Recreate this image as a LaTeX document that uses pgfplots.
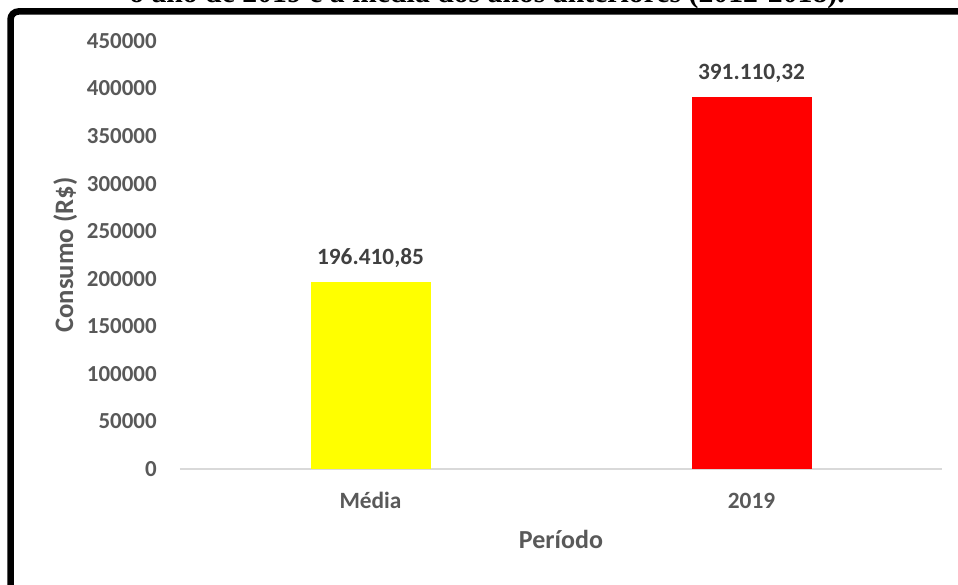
\documentclass[border=0pt]{standalone}
\usepackage{fontspec}
\setmainfont{Carlito}
\newfontfamily\titlefont{Liberation Serif}
\usepackage{pgfplots}
\usepackage{pgfplotstable}
\pgfplotsset{compat=1.18}
\definecolor{tickgray}{HTML}{595959}
\definecolor{labgray}{HTML}{404040}
\definecolor{axgray}{HTML}{D9D9D9}
\definecolor{baryellow}{HTML}{FFFF00}
\definecolor{barred}{HTML}{FF0000}

\pgfplotstableread{
x y label
0 196410.85 196.410,85
}\mediadata
\pgfplotstableread{
x y label
1 391110.32 391.110,32
}\anodata

\begin{document}
\begin{tikzpicture}
\path[use as bounding box, clip] (0pt,0pt) rectangle (718.5pt,-438.75pt);
\node[anchor=base, inner sep=0pt, font=\titlefont\bfseries\fontsize{22.3}{26}\selectfont] at (365.25pt,-1.9pt) {o ano de 2019 e a média dos anos anteriores (2012-2018).};
\draw[line width=4.9pt, rounded corners=6pt] (7.9pt,-470pt) -- (7.9pt,-8.6pt) -- (760pt,-8.6pt);
\begin{axis}[
  at={(135pt,-351.75pt)}, anchor=south west,
  scale only axis, width=571.5pt, height=321pt,
  xmin=-0.5, xmax=1.5, ymin=0, ymax=450000,
  xtick={0,1}, xticklabels={Média,2019},
  ytick={0,50000,...,450000},
  scaled y ticks=false,
  axis line style={draw=none},
  tick style={draw=none},
  major tick length=0pt,
  yticklabel style={/pgf/number format/fixed, /pgf/number format/1000 sep={}, /pgf/number format/assume math mode=true,
     font=\bfseries\fontsize{17.2}{20}\selectfont, text=tickgray, inner sep=0pt, anchor=east, xshift=-17.25pt},
  xticklabel style={font=\bfseries\fontsize{17.5}{20}\selectfont, text=tickgray, inner sep=0pt, anchor=base, yshift=-29.25pt},
  every axis x label/.style={at={(axis description cs:0.5,-0.1846)}, anchor=base, inner sep=0pt, font=\bfseries\fontsize{19.5}{23}\selectfont, text=tickgray},
  every axis y label/.style={at={(axis description cs:-0.1404,0.5)}, anchor=base, rotate=90, inner sep=0pt, font=\bfseries\fontsize{20}{23}\selectfont, text=tickgray},
  xlabel={Período},
  ylabel={Consumo (R\$)},
  ybar, bar width=90pt, bar shift=0pt,
  clip=false,
  nodes near coords, point meta=explicit symbolic,
  every node near coord/.append style={font=\bfseries\fontsize{17.5}{21}\selectfont, text=labgray, anchor=base, inner sep=0pt, yshift=13.5pt},
]
\draw[axgray, line width=1.2pt] (axis cs:-0.5,0) -- (axis cs:1.5,0);
\addplot[fill=baryellow, draw=none] table[x=x, y=y, meta=label] {\mediadata};
\addplot[fill=barred, draw=none] table[x=x, y=y, meta=label] {\anodata};
\end{axis}
\end{tikzpicture}
\end{document}
